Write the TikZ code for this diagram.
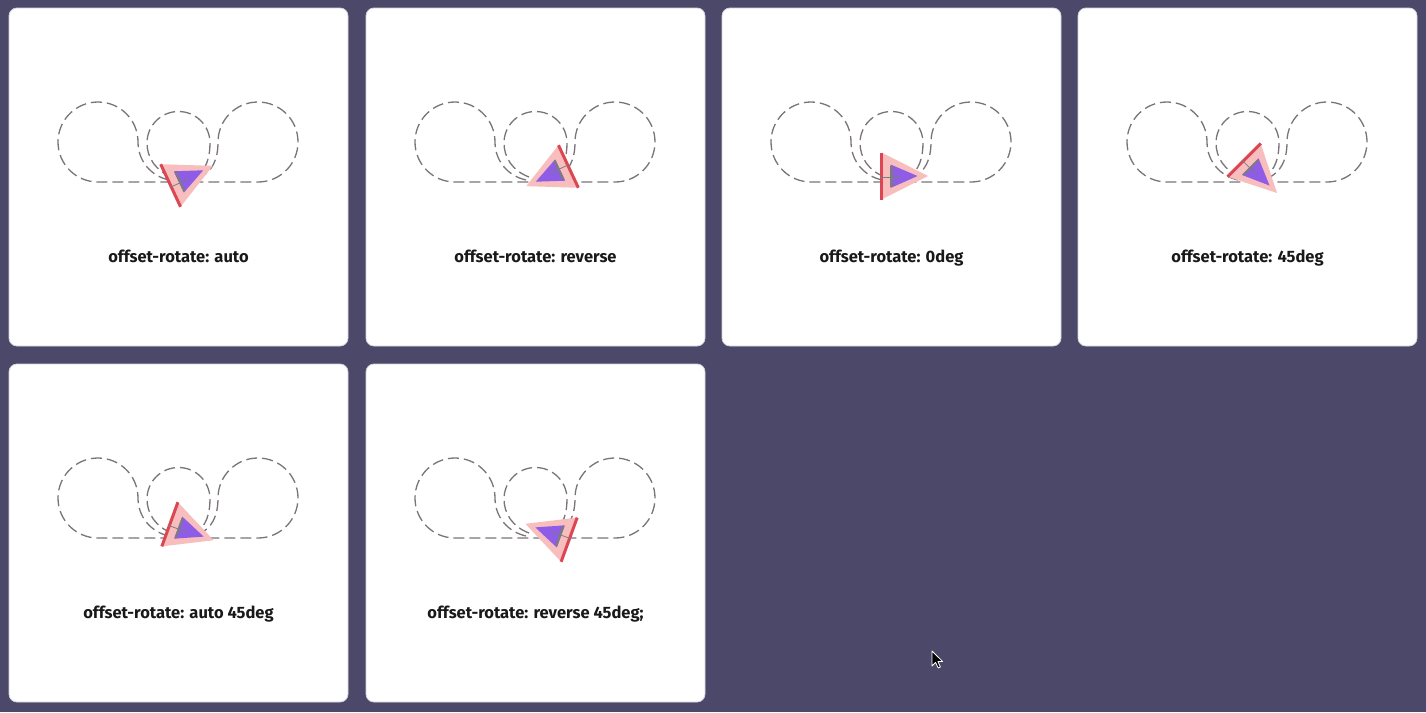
\documentclass[tikz,border=0pt]{standalone}
\usepackage{fontspec}
\setmainfont{Fira Sans}
\definecolor{bgc}{HTML}{4B4869}
\definecolor{pathc}{HTML}{7A7478}
\definecolor{pinkc}{HTML}{F8BDBD}
\definecolor{redc}{HTML}{DC4652}
\definecolor{purpc}{HTML}{8E5CE6}
\definecolor{graym}{HTML}{7C7C80}
\definecolor{cardline}{HTML}{D4D4DC}
\tikzset{
  cardbox/.style={fill=white, draw=cardline, line width=0.8pt, rounded corners=8pt},
  pathdash/.style={draw=pathc, line width=1.3pt, dash pattern=on 11pt off 5pt},
  labeltext/.style={font=\bfseries\fontsize{16.5}{19}\selectfont, text=black!90, inner sep=0pt, anchor=base}
}
\newcommand\democard[5]{%
  \begin{scope}[shift={(#1,#2)}]
    \draw[cardbox] (0,0) rectangle (339,338);
    \draw[pathdash] (160,172) .. controls (142,168) and (129,153) .. (129,134)
      arc[start angle=0,end angle=-270,radius=40] -- (249,174)
      arc[start angle=90,end angle=-180,radius=40]
      .. controls (209,152) and (203,164) .. (190,170);
    \draw[pathdash] (163,169) .. controls (147,163) and (138,150) .. (138,135)
      arc[start angle=180,end angle=360,radius=31.5]
      .. controls (201,150) and (197,162) .. (187,169);
    \begin{scope}[shift={(182,168)}, rotate=#3]
      \fill[pinkc] (-22.5,-23.5) -- (24,0) -- (-22.5,23.5) -- cycle;
      \draw[redc, line width=3pt] (-22.5,-23.5) -- (-22.5,23.5);
      \fill[purpc] (-13.5,-11.5) -- (13.5,0) -- (-13.5,12) -- cycle;
      \draw[graym, line width=2.2pt] (-12.5,-10) -- (-12.5,11);
      \draw[graym, line width=0.8pt] (-24,1.5) -- (-3,1.5);
    \end{scope}
    \node[labeltext] (#4) at (169.5,254.5) {#5};
  \end{scope}
}
\begin{document}
\begin{tikzpicture}[x=1pt,y=-1pt]
  \fill[bgc] (0,0) rectangle (1426,712);
  \useasboundingbox (0,0) rectangle (1426,712);
  \democard{9}{8}{25}{labA}{offset-rotate: auto}
  \democard{366}{8}{-155}{labB}{offset-rotate: reverse}
  \democard{722}{8}{0}{labC}{offset-rotate: 0deg}
  \democard{1078}{8}{-45}{labD}{offset-rotate: 45deg}
  \democard{9}{364}{-20}{labE}{offset-rotate: auto 45deg}
  \democard{366}{364}{-200}{labF}{offset-rotate: reverse 45deg;}
  % mouse pointer
  \begin{scope}[shift={(932,651)}]
    \filldraw[fill=black, draw=white, line width=0.8pt, line join=round]
      (0,0) -- (0,15) -- (3.6,11.4) -- (6.2,17) -- (8.4,16) -- (5.9,10.5) -- (10.6,10.5) -- cycle;
  \end{scope}
\end{tikzpicture}
\end{document}
